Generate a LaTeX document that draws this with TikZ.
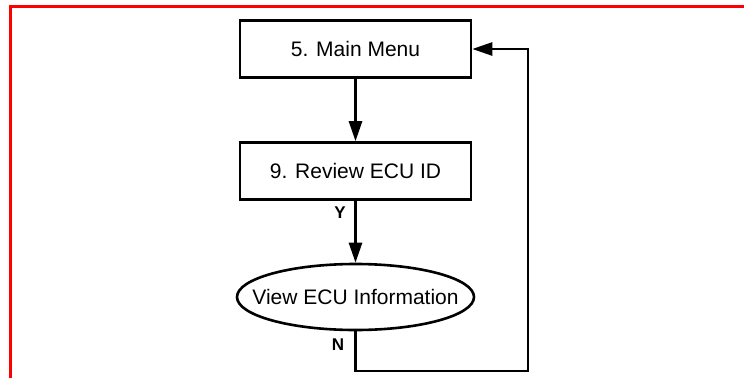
\documentclass[tikz,border=0pt]{standalone}
\usepackage{fontspec}
\setmainfont{Liberation Sans}
\usepackage{tikz}
\usetikzlibrary{arrows.meta,positioning,shapes.geometric,calc}

\begin{document}
\begin{tikzpicture}[
    x=1pt, y=-1pt,
    box/.style={rectangle, draw, line width=2.6pt, minimum width=231pt, minimum height=57pt, inner sep=0pt, font=\fontsize{21}{25}\selectfont},
    term/.style={ellipse, draw, line width=2.6pt, minimum width=237pt, minimum height=66pt, inner xsep=-21pt, inner ysep=0pt, font=\fontsize{21}{25}\selectfont},
    arrow/.style={-{Triangle[length=20pt, width=13pt]}, line width=2.6pt},
    lbl/.style={font=\fontsize{17}{20}\selectfont\bfseries}
]
\useasboundingbox (0,0) rectangle (744,378);

% frame
\draw[red, line width=3pt] (10.5,378) -- (10.5,6) -- (744,6);

% flow
\node[box] (menu) at (355.5,49) {5. Main Menu};
\node[box] (review) at (355.5,171) {9. Review ECU ID};
\node[term] (view) at (355.5,297) {View ECU Information};

\coordinate (back) at (528,371);

\draw[arrow] (menu) -- (review);
\draw[arrow] (review) -- (view);
\draw[arrow] (view.south) |- (back) |- (menu.east);

% answers
\node[lbl] (yes) at (340,213) {Y};
\node[lbl] (no) at (338,345) {N};

\end{tikzpicture}
\end{document}
